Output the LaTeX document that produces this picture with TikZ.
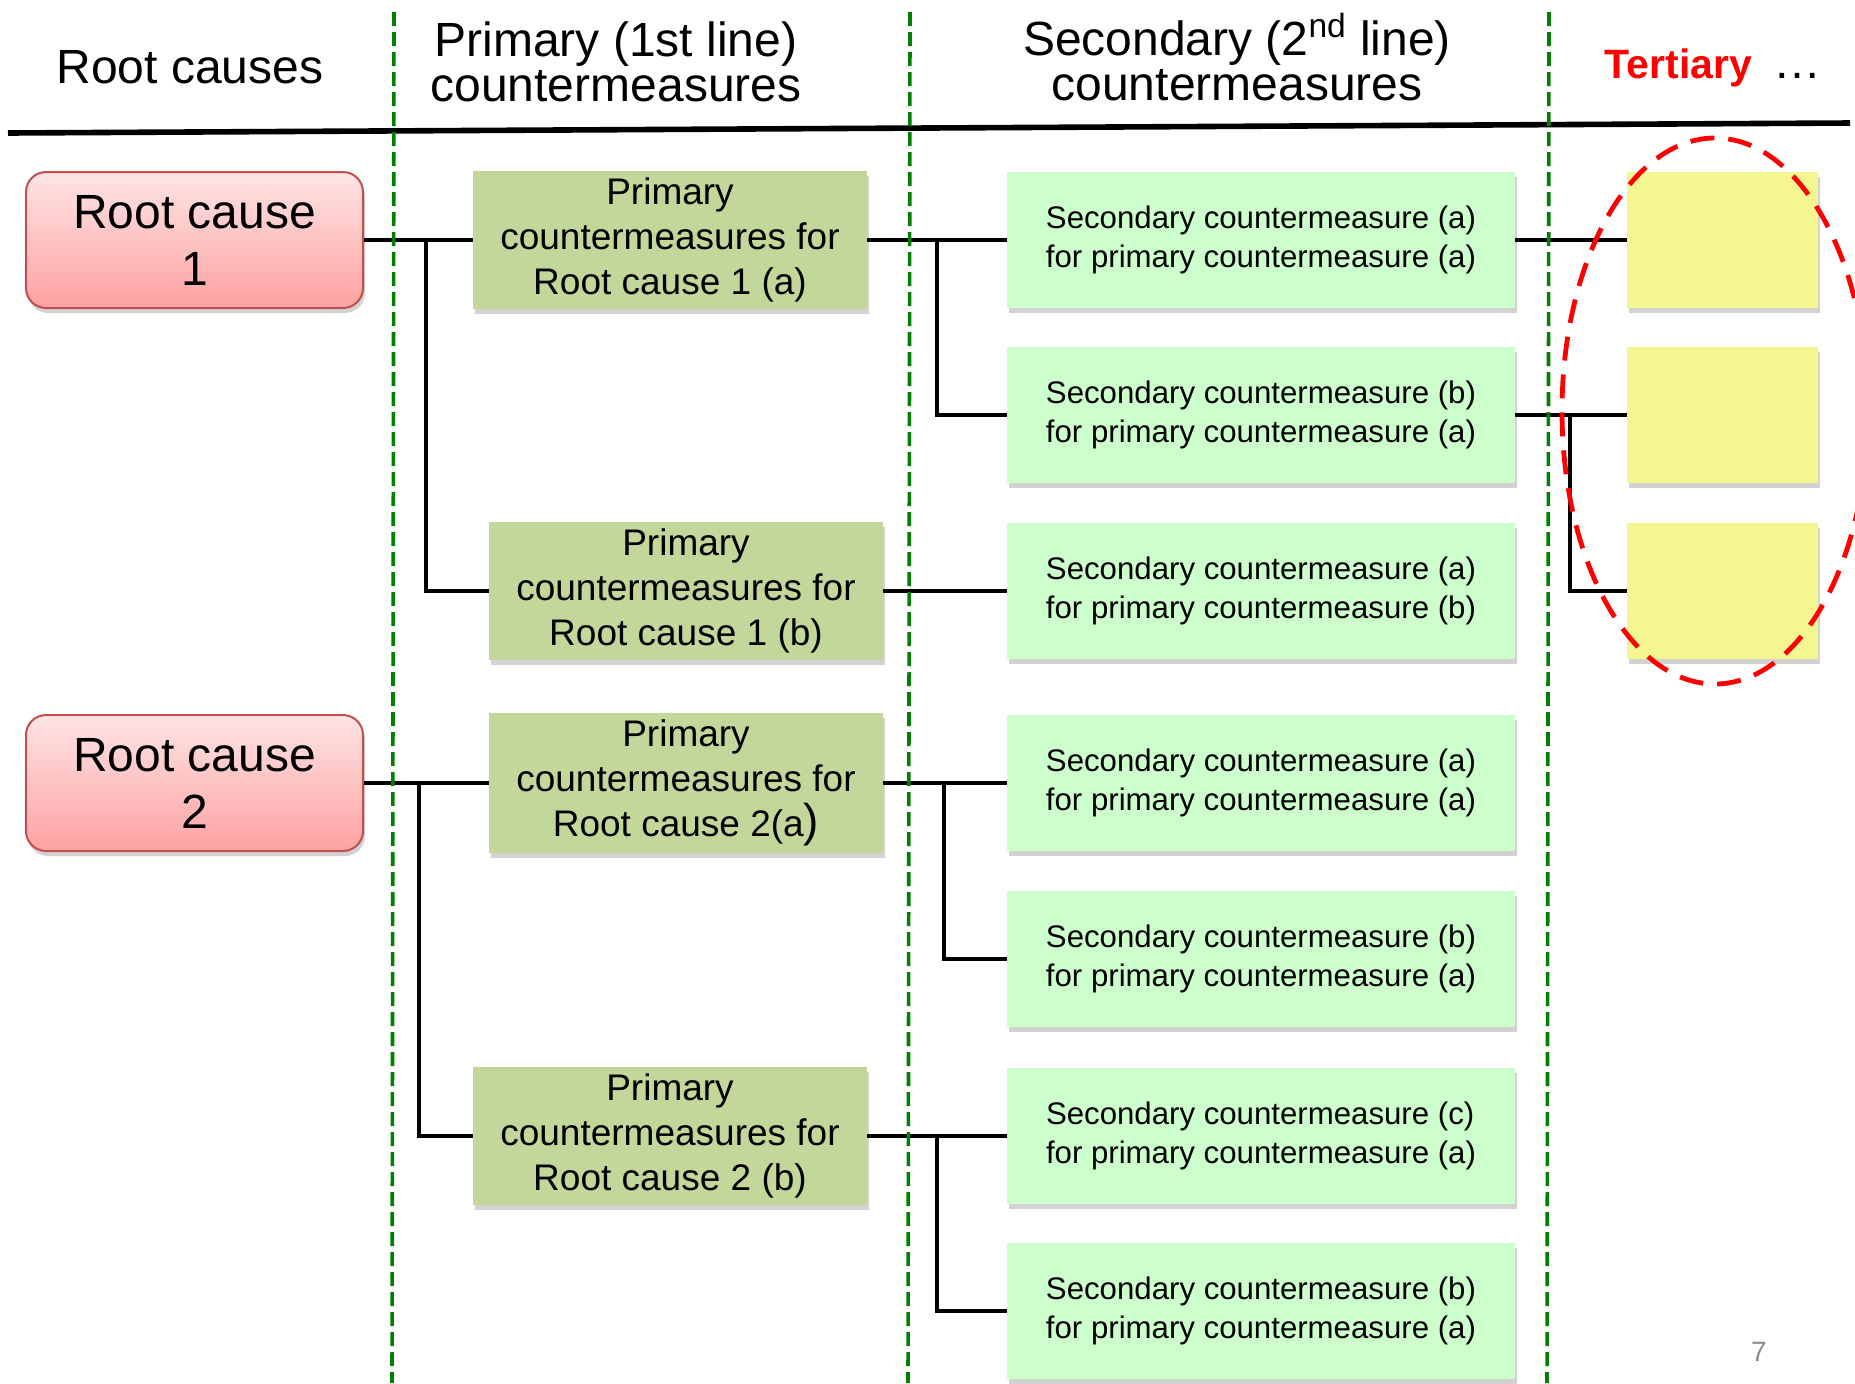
\documentclass[tikz,border=0pt]{standalone}
\usepackage{fontspec}
\setmainfont{Liberation Sans}
\usepackage{tikz}
\usetikzlibrary{positioning,shadows,calc}

\definecolor{rcborder}{HTML}{C0504D}
\definecolor{rctop}{HTML}{FFE4E4}
\definecolor{rcbottom}{HTML}{FDA2A2}
\definecolor{primfill}{HTML}{C4D79B}
\definecolor{secfill}{HTML}{CCFFCC}
\definecolor{terfill}{HTML}{F4F78F}
\definecolor{sepgreen}{HTML}{008000}
\definecolor{pagegray}{HTML}{8C8C8C}

\tikzset{
  boxshadow/.style={drop shadow={shadow xshift=1pt, shadow yshift=-2.5pt, opacity=0.25, fill=black!70}},
  headtext/.style={align=center, font=\fontsize{24}{22.5}\selectfont},
  rootbox/.style={draw=rcborder, line width=1pt, rounded corners=10pt, top color=rctop, bottom color=rcbottom,
    minimum width=168.5pt, minimum height=68pt, align=center, font=\fontsize{24}{28.5}\selectfont, boxshadow},
  primbox/.style={fill=primfill, minimum width=197pt, minimum height=69pt, align=center,
    font=\fontsize{18.5}{22.5}\selectfont, boxshadow},
  secbox/.style={fill=secfill, minimum width=254pt, minimum height=68pt, align=left,
    font=\fontsize{15.6}{19.5}\selectfont, boxshadow},
  terbox/.style={fill=terfill, minimum width=95.5pt, minimum height=68pt, boxshadow},
  conn/.style={line width=2pt},
  colsep/.style={sepgreen, line width=1.8pt, dash pattern=on 7pt off 3pt},
}

\begin{document}
\begin{tikzpicture}[x=0.5pt, y=-0.5pt]
    \useasboundingbox (0,0) rectangle (1855,1383);

    % column heads
    \node[headtext] (hroot) at (190,67) {Root causes};
    \node[headtext] (hprim) at (616,62) {Primary (1st line)\\countermeasures};
    \node[headtext] (hsec) at (1237,57) {Secondary (2\textsuperscript{nd} line)\\countermeasures};
    \node[headtext, anchor=base east] (hter) at (1759,78) {\color{red}\bfseries\fontsize{20.5}{24}\selectfont Tertiary};
    \node[headtext, anchor=base west] (hdots) at (1766,78) {…};

    % head rule
    \draw[line width=2.8pt] (8,133) -- (1850,123);

    % root causes
    \node[rootbox] (rc1) at (194.5,240) {Root cause\\1};
    \node[rootbox] (rc2) at (194.5,783) {Root cause\\2};

    % primary countermeasures
    \node[primbox] (p1a) at (670,240) {Primary\\countermeasures for\\Root cause 1 (a)};
    \node[primbox] (p1b) at (686,591) {Primary\\countermeasures for\\Root cause 1 (b)};
    \node[primbox] (p2a) at (686,783) {Primary\\countermeasures for\\Root cause 2(a{\fontsize{23}{23}\selectfont)}};
    \node[primbox] (p2b) at (670,1136) {Primary\\countermeasures for\\Root cause 2 (b)};

    % secondary countermeasures
    \node[secbox] (s1) at (1261,240) {Secondary countermeasure (a)\\for primary countermeasure (a)};
    \node[secbox] (s2) at (1261,415) {Secondary countermeasure (b)\\for primary countermeasure (a)};
    \node[secbox] (s3) at (1261,591) {Secondary countermeasure (a)\\for primary countermeasure (b)};
    \node[secbox] (s4) at (1261,783) {Secondary countermeasure (a)\\for primary countermeasure (a)};
    \node[secbox] (s5) at (1261,959) {Secondary countermeasure (b)\\for primary countermeasure (a)};
    \node[secbox] (s6) at (1261,1136) {Secondary countermeasure (c)\\for primary countermeasure (a)};
    \node[secbox] (s7) at (1261,1311) {Secondary countermeasure (b)\\for primary countermeasure (a)};

    % tertiary
    \node[terbox] (t1) at (1722.5,240) {};
    \node[terbox] (t2) at (1722.5,415) {};
    \node[terbox] (t3) at (1722.5,591) {};

    % branch points
    \coordinate (j1) at (426,240);
    \coordinate (j2) at (419,783);
    \coordinate (j3) at (937,240);
    \coordinate (j4) at (944,783);
    \coordinate (j5) at (937,1136);
    \coordinate (j6) at (1570,415);

    % connectors
    \draw[conn] (rc1.east) -- (p1a.west);
    \draw[conn] (j1) |- (p1b.west);
    \draw[conn] (rc2.east) -- (p2a.west);
    \draw[conn] (j2) |- (p2b.west);
    \draw[conn] (p1a.east) -- (s1.west);
    \draw[conn] (j3) |- (s2.west);
    \draw[conn] (p1b.east) -- (s3.west);
    \draw[conn] (p2a.east) -- (s4.west);
    \draw[conn] (j4) |- (s5.west);
    \draw[conn] (p2b.east) -- (s6.west);
    \draw[conn] (j5) |- (s7.west);
    \draw[conn] (s1.east) -- (t1.west);
    \draw[conn] (s2.east) -- (t2.west);
    \draw[conn] (j6) |- (t3.west);

    % column separators
    \draw[colsep] (394,12) -- (392,1383);
    \draw[colsep] (910,12) -- (908,1383);
    \draw[colsep] (1549,12) -- (1547,1383);

    % tertiary group
    \draw[red, line width=2.4pt, dash pattern=on 12pt off 7pt] (1715,411) ellipse [x radius=76.5pt, y radius=136.5pt];

    % page number
    \node[pagegray, font=\fontsize{14}{14}\selectfont] (pageno) at (1759,1352) {7};
\end{tikzpicture}
\end{document}
